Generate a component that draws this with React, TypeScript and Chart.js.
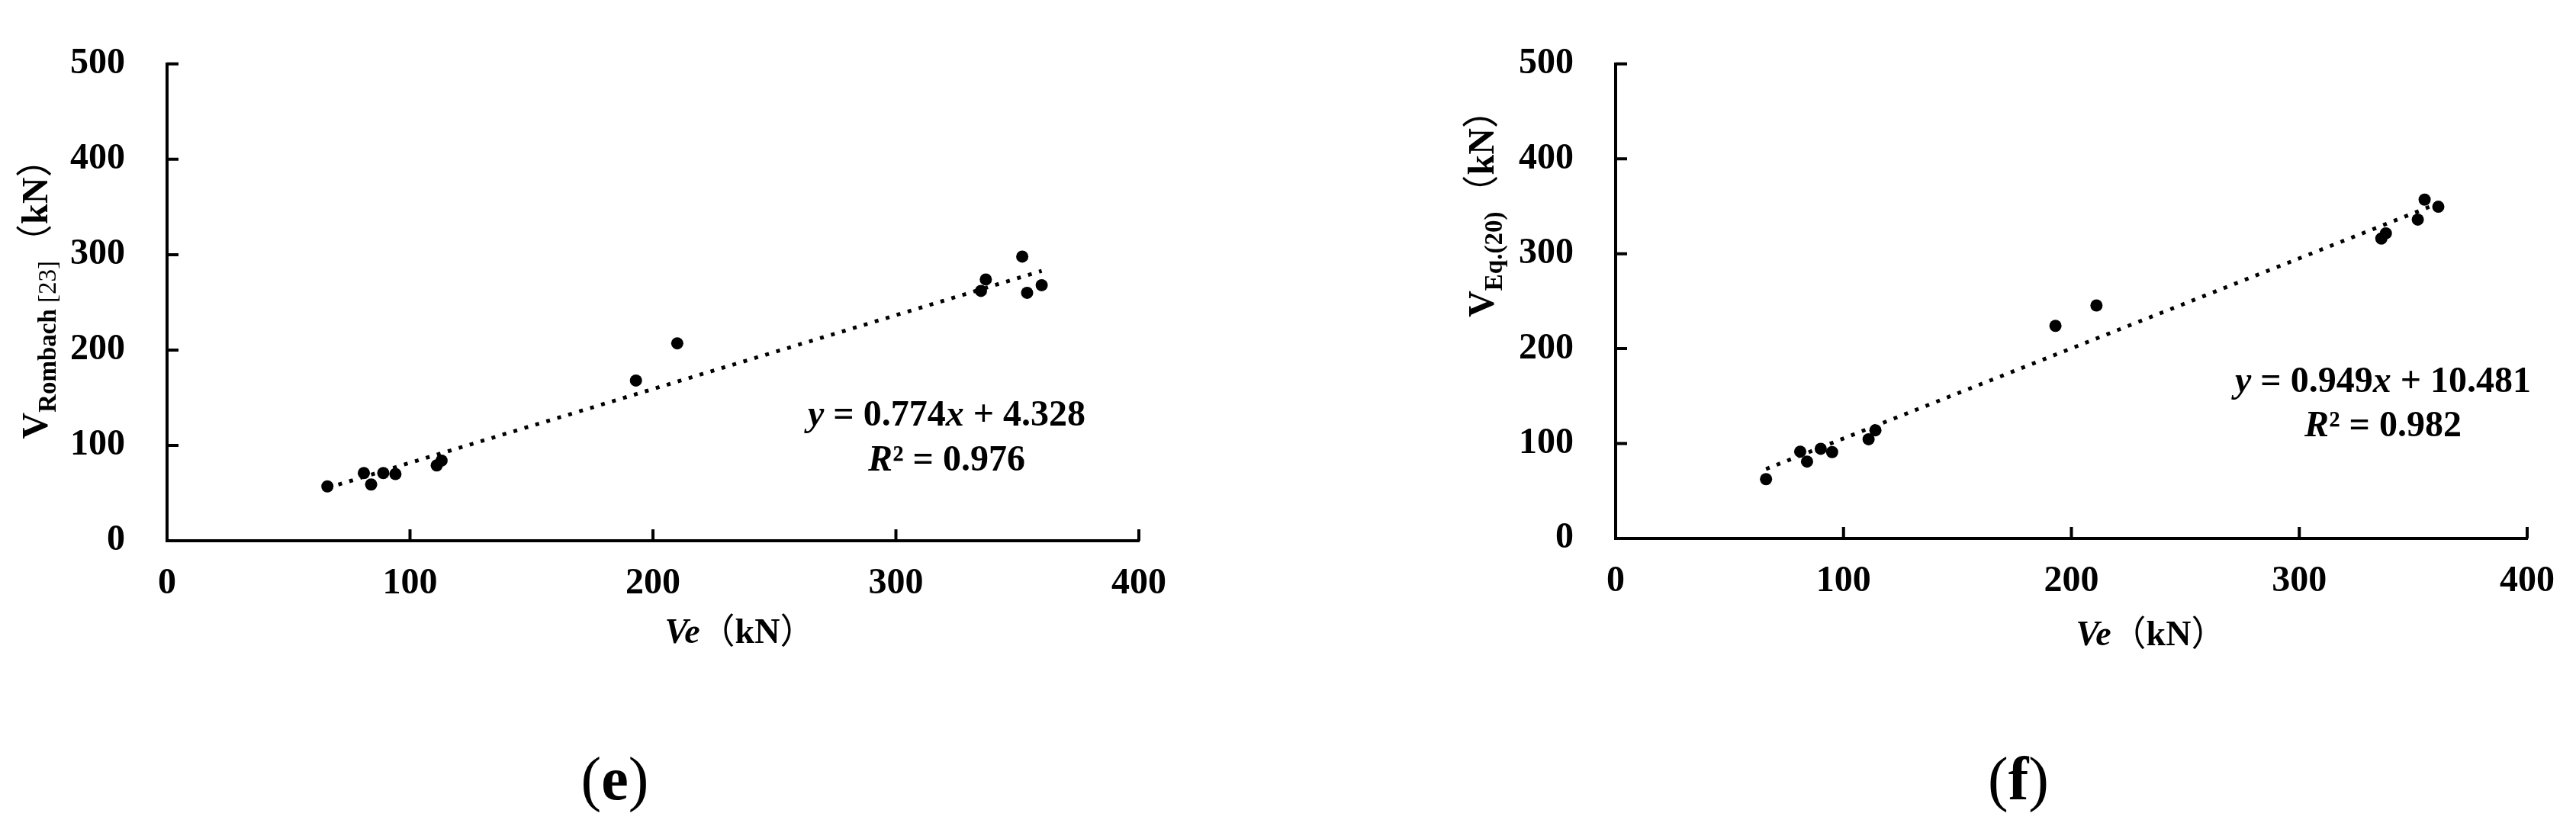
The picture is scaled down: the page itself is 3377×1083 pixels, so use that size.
import React, { useEffect, useRef } from "react";
import { Chart, registerables } from "chart.js";

Chart.register(...registerables);

// ---------- data ----------
const xTicks = [0, 100, 200, 300, 400];
const yTicks = [0, 100, 200, 300, 400, 500];

// panel (e)
const veE = [66, 81, 84, 89, 94, 111, 113, 193, 210, 335, 337, 352, 354, 360];
const vRombach = [57, 71, 59, 71, 70, 79, 84, 168, 207, 262, 274, 298, 260, 268];
const slopeE = 0.774;
const interceptE = 4.328;
const r2E = "0.976";

// panel (f)
const veF = [66, 81, 84, 90, 95, 111, 114, 193, 211, 336, 338, 352, 355, 361];
const vEq20 = [62.5, 91.5, 81, 94.5, 91, 104.5, 114, 224, 245.5, 316, 321.5, 336, 357, 349.5];
const slopeF = 0.949;
const interceptF = 10.481;
const r2F = "0.982";

// ---------- styling ----------
const SERIF = "'Liberation Serif', 'Times New Roman', serif";
const CJK = "'Noto Sans CJK SC', 'Noto Sans CJK JP', sans-serif";
const H = 1083;

type Run = { t: string; font: string; dy?: number };

function runsWidth(ctx: CanvasRenderingContext2D, runs: Run[]) {
  let w = 0;
  for (const r of runs) {
    ctx.font = r.font;
    w += ctx.measureText(r.t).width;
  }
  return w;
}

function drawRuns(ctx: CanvasRenderingContext2D, runs: Run[], x: number, y: number, align: "center" | "left") {
  const w = runsWidth(ctx, runs);
  let cx = align === "center" ? x - w / 2 : x;
  ctx.textAlign = "left";
  ctx.textBaseline = "alphabetic";
  ctx.fillStyle = "#000";
  for (const r of runs) {
    ctx.font = r.font;
    ctx.fillText(r.t, cx, y + (r.dy || 0));
    cx += ctx.measureText(r.t).width;
  }
}

type PanelCfg = {
  width: number;
  areaLeft: number;
  areaRight: number;
  areaTop: number;
  areaBottom: number;
  xs: number[];
  ys: number[];
  slope: number;
  intercept: number;
  r2: string;
  subMain: string;
  subExtra: string;
  yTitleX: number;
  yTitleY: number;
  xTitleX: number;
  xTitleY: number;
  eqX: number;
  eqY1: number;
  eqY2: number;
  letter: string;
  letterX: number;
  letterY: number;
};

function makeChart(canvas: HTMLCanvasElement, p: PanelCfg) {
  const xmin = Math.min(...p.xs);
  const xmax = Math.max(...p.xs);
  const tickFont = { family: SERIF, size: 48, weight: "bold" as const };

  const decor = {
    id: "decor" + p.letter,
    afterDraw(chart: any) {
      const ctx: CanvasRenderingContext2D = chart.ctx;
      const xs = chart.scales.x;
      const ys = chart.scales.y;
      const area = chart.chartArea;
      ctx.save();
      // inward tick marks
      ctx.strokeStyle = "#000";
      ctx.lineWidth = 4;
      ctx.lineCap = "butt";
      ctx.beginPath();
      for (const v of xTicks) {
        if (v === 0) continue;
        const px = xs.getPixelForValue(v);
        ctx.moveTo(px, area.bottom);
        ctx.lineTo(px, area.bottom - 15);
      }
      for (const v of yTicks) {
        if (v === 0) continue;
        const py = ys.getPixelForValue(v);
        ctx.moveTo(area.left, py);
        ctx.lineTo(area.left + 15, py);
      }
      ctx.stroke();

      // y axis title (rotated)
      ctx.save();
      ctx.translate(p.yTitleX, p.yTitleY);
      ctx.rotate(-Math.PI / 2);
      drawRuns(
        ctx,
        [
          { t: "V", font: `bold 48px ${SERIF}` },
          { t: p.subMain, font: `bold 33px ${SERIF}`, dy: 11 },
          { t: p.subExtra, font: `33px ${SERIF}`, dy: 11 },
          { t: "（", font: `48px ${CJK}` },
          { t: "kN", font: `bold 48px ${SERIF}` },
          { t: "）", font: `48px ${CJK}` },
        ],
        0,
        0,
        "center"
      );
      ctx.restore();

      // x axis title
      drawRuns(
        ctx,
        [
          { t: "Ve", font: `italic bold 46px ${SERIF}` },
          { t: "（", font: `46px ${CJK}` },
          { t: "kN", font: `bold 46px ${SERIF}` },
          { t: "）", font: `46px ${CJK}` },
        ],
        p.xTitleX,
        p.xTitleY,
        "center"
      );

      // regression equation
      const sign = p.intercept >= 0 ? "+" : "−";
      drawRuns(
        ctx,
        [
          { t: "y", font: `italic bold 48px ${SERIF}` },
          { t: ` = ${p.slope.toFixed(3)}`, font: `bold 48px ${SERIF}` },
          { t: "x", font: `italic bold 48px ${SERIF}` },
          { t: ` ${sign} ${Math.abs(p.intercept).toFixed(3)}`, font: `bold 48px ${SERIF}` },
        ],
        p.eqX,
        p.eqY1,
        "center"
      );
      drawRuns(
        ctx,
        [
          { t: "R", font: `italic bold 48px ${SERIF}` },
          { t: "²", font: `bold 48px ${SERIF}` },
          { t: ` = ${p.r2}`, font: `bold 48px ${SERIF}` },
        ],
        p.eqX,
        p.eqY2,
        "center"
      );

      // panel letter
      drawRuns(
        ctx,
        [
          { t: "(", font: `80px ${SERIF}` },
          { t: p.letter, font: `bold 80px ${SERIF}` },
          { t: ")", font: `80px ${SERIF}` },
        ],
        p.letterX,
        p.letterY,
        "center"
      );
      ctx.restore();
    },
  };

  return new Chart(canvas, {
    type: "scatter",
    data: {
      datasets: [
        {
          type: "scatter",
          data: p.xs.map((x, i) => ({ x, y: p.ys[i] })),
          pointRadius: 8,
          pointHoverRadius: 8,
          pointBackgroundColor: "#000",
          pointBorderColor: "#000",
          pointBorderWidth: 0,
          order: 0,
        },
        {
          type: "line",
          data: [
            { x: xmin, y: p.slope * xmin + p.intercept },
            { x: xmax, y: p.slope * xmax + p.intercept },
          ],
          borderColor: "#000",
          borderWidth: 5,
          borderDash: [5, 10],
          pointRadius: 0,
          fill: false,
          order: 1,
        } as any,
      ],
    },
    options: {
      animation: false,
      responsive: false,
      events: [],
      layout: {
        padding: { left: 0, top: p.areaTop, right: p.width - p.areaRight, bottom: 0 },
      },
      plugins: { legend: { display: false }, tooltip: { enabled: false } },
      scales: {
        x: {
          type: "linear",
          position: "bottom",
          min: 0,
          max: 400,
          afterBuildTicks: (s: any) => {
            s.ticks = xTicks.map((v) => ({ value: v }));
          },
          ticks: { font: tickFont, color: "#000", padding: 28, maxRotation: 0 },
          grid: { display: false, drawTicks: false },
          border: { display: true, color: "#000", width: 4 },
          afterFit: (s: any) => {
            s.height = H - p.areaBottom;
          },
        },
        y: {
          type: "linear",
          position: "left",
          min: 0,
          max: 500,
          afterBuildTicks: (s: any) => {
            s.ticks = yTicks.map((v) => ({ value: v }));
          },
          ticks: { font: tickFont, color: "#000", padding: 55 },
          grid: { display: false, drawTicks: false },
          border: { display: true, color: "#000", width: 4 },
          afterFit: (s: any) => {
            s.width = p.areaLeft;
          },
        },
      },
    } as any,
    plugins: [decor],
  });
}

const panelE: PanelCfg = {
  width: 1690,
  areaLeft: 219,
  areaRight: 1493,
  areaTop: 44,
  areaBottom: 709,
  xs: veE,
  ys: vRombach,
  slope: slopeE,
  intercept: interceptE,
  r2: r2E,
  subMain: "Rombach",
  subExtra: " [23]",
  yTitleX: 62,
  yTitleY: 380,
  xTitleX: 970,
  xTitleY: 843,
  eqX: 1241,
  eqY1: 558,
  eqY2: 617,
  letter: "e",
  letterX: 806,
  letterY: 1048,
};

const panelF: PanelCfg = {
  width: 1687,
  areaLeft: 428,
  areaRight: 1637,
  areaTop: 48,
  areaBottom: 706,
  xs: veF,
  ys: vEq20,
  slope: slopeF,
  intercept: interceptF,
  r2: r2F,
  subMain: "Eq.(20)",
  subExtra: "",
  yTitleX: 268,
  yTitleY: 268,
  xTitleX: 1130,
  xTitleY: 846,
  eqX: 1434,
  eqY1: 514,
  eqY2: 572,
  letter: "f",
  letterX: 956,
  letterY: 1048,
};

export default function App() {
  const leftRef = useRef<HTMLCanvasElement | null>(null);
  const rightRef = useRef<HTMLCanvasElement | null>(null);

  useEffect(() => {
    const a = leftRef.current ? makeChart(leftRef.current, panelE) : null;
    const b = rightRef.current ? makeChart(rightRef.current, panelF) : null;
    return () => {
      a?.destroy();
      b?.destroy();
    };
  }, []);

  return (
    <div
      style={{
        position: "absolute",
        left: 0,
        top: 0,
        width: 3377,
        height: H,
        background: "#fff",
        overflow: "hidden",
      }}
    >
      <canvas
        ref={leftRef}
        width={1690}
        height={H}
        style={{ position: "absolute", left: 0, top: 0, width: 1690, height: H }}
      />
      <canvas
        ref={rightRef}
        width={1687}
        height={H}
        style={{ position: "absolute", left: 1690, top: 0, width: 1687, height: H }}
      />
    </div>
  );
}
